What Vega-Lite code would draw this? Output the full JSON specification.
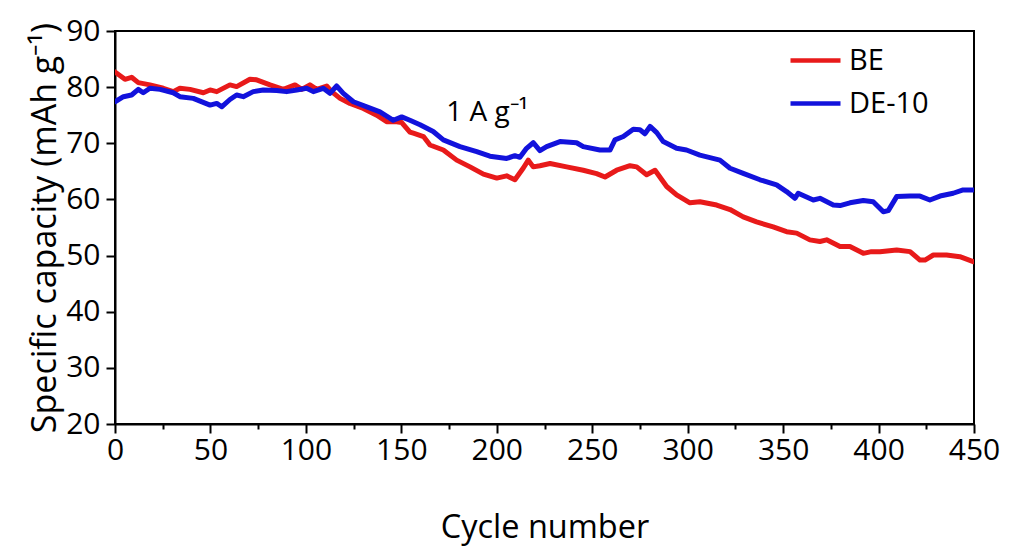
{
  "$schema": "https://vega.github.io/schema/vega-lite/v6.json",
  "width": 859,
  "height": 393,
  "autosize": "none",
  "padding": {"left": 115, "top": 31, "right": 37, "bottom": 125},
  "background": "white",
  "config": {
    "view": {"stroke": "black", "strokeWidth": 2},
    "font": "Open Sans",
    "axis": {
      "grid": false,
      "domainColor": "black",
      "domainWidth": 2,
      "tickColor": "black",
      "tickWidth": 2,
      "labelColor": "black",
      "titleColor": "black",
      "labelFont": "Open Sans",
      "titleFont": "Open Sans",
      "labelFontSize": 30,
      "titleFontSize": 32.5,
      "titleFontWeight": "normal"
    }
  },
  "data": {
    "values": [
      {"cycle": 0, "capacity": 82.7, "electrolyte": "BE"},
      {"cycle": 5.2, "capacity": 81.4, "electrolyte": "BE"},
      {"cycle": 8.7, "capacity": 81.75, "electrolyte": "BE"},
      {"cycle": 12.2, "capacity": 80.8, "electrolyte": "BE"},
      {"cycle": 18.3, "capacity": 80.4, "electrolyte": "BE"},
      {"cycle": 25.3, "capacity": 79.8, "electrolyte": "BE"},
      {"cycle": 30.5, "capacity": 79.2, "electrolyte": "BE"},
      {"cycle": 34, "capacity": 79.8, "electrolyte": "BE"},
      {"cycle": 39.3, "capacity": 79.6, "electrolyte": "BE"},
      {"cycle": 46.3, "capacity": 79.0, "electrolyte": "BE"},
      {"cycle": 49.8, "capacity": 79.5, "electrolyte": "BE"},
      {"cycle": 53.3, "capacity": 79.2, "electrolyte": "BE"},
      {"cycle": 60.2, "capacity": 80.4, "electrolyte": "BE"},
      {"cycle": 63.7, "capacity": 80.1, "electrolyte": "BE"},
      {"cycle": 70.7, "capacity": 81.4, "electrolyte": "BE"},
      {"cycle": 74.2, "capacity": 81.3, "electrolyte": "BE"},
      {"cycle": 81.2, "capacity": 80.4, "electrolyte": "BE"},
      {"cycle": 88.2, "capacity": 79.6, "electrolyte": "BE"},
      {"cycle": 94.3, "capacity": 80.4, "electrolyte": "BE"},
      {"cycle": 97.8, "capacity": 79.6, "electrolyte": "BE"},
      {"cycle": 102.1, "capacity": 80.4, "electrolyte": "BE"},
      {"cycle": 105.7, "capacity": 79.6, "electrolyte": "BE"},
      {"cycle": 110.9, "capacity": 80.2, "electrolyte": "BE"},
      {"cycle": 113.5, "capacity": 79.2, "electrolyte": "BE"},
      {"cycle": 117.9, "capacity": 78.0, "electrolyte": "BE"},
      {"cycle": 123.1, "capacity": 77.1, "electrolyte": "BE"},
      {"cycle": 130.1, "capacity": 76.2, "electrolyte": "BE"},
      {"cycle": 137.1, "capacity": 75.0, "electrolyte": "BE"},
      {"cycle": 142.3, "capacity": 73.85, "electrolyte": "BE"},
      {"cycle": 147.6, "capacity": 73.85, "electrolyte": "BE"},
      {"cycle": 150.2, "capacity": 73.7, "electrolyte": "BE"},
      {"cycle": 154.5, "capacity": 72.0, "electrolyte": "BE"},
      {"cycle": 156.3, "capacity": 71.8, "electrolyte": "BE"},
      {"cycle": 161.6, "capacity": 71.2, "electrolyte": "BE"},
      {"cycle": 165, "capacity": 69.7, "electrolyte": "BE"},
      {"cycle": 172, "capacity": 68.8, "electrolyte": "BE"},
      {"cycle": 179, "capacity": 67.0, "electrolyte": "BE"},
      {"cycle": 186, "capacity": 65.8, "electrolyte": "BE"},
      {"cycle": 193, "capacity": 64.5, "electrolyte": "BE"},
      {"cycle": 200, "capacity": 63.8, "electrolyte": "BE"},
      {"cycle": 205.2, "capacity": 64.2, "electrolyte": "BE"},
      {"cycle": 209.5, "capacity": 63.5, "electrolyte": "BE"},
      {"cycle": 213.9, "capacity": 65.6, "electrolyte": "BE"},
      {"cycle": 216.5, "capacity": 67.0, "electrolyte": "BE"},
      {"cycle": 219.1, "capacity": 65.8, "electrolyte": "BE"},
      {"cycle": 222.6, "capacity": 66.0, "electrolyte": "BE"},
      {"cycle": 227.9, "capacity": 66.4, "electrolyte": "BE"},
      {"cycle": 236.6, "capacity": 65.8, "electrolyte": "BE"},
      {"cycle": 245.3, "capacity": 65.2, "electrolyte": "BE"},
      {"cycle": 252.3, "capacity": 64.6, "electrolyte": "BE"},
      {"cycle": 256.7, "capacity": 64.0, "electrolyte": "BE"},
      {"cycle": 262.8, "capacity": 65.2, "electrolyte": "BE"},
      {"cycle": 269.8, "capacity": 66.0, "electrolyte": "BE"},
      {"cycle": 273.3, "capacity": 65.8, "electrolyte": "BE"},
      {"cycle": 278.5, "capacity": 64.4, "electrolyte": "BE"},
      {"cycle": 282.9, "capacity": 65.2, "electrolyte": "BE"},
      {"cycle": 289, "capacity": 62.3, "electrolyte": "BE"},
      {"cycle": 294.2, "capacity": 60.8, "electrolyte": "BE"},
      {"cycle": 301.2, "capacity": 59.4, "electrolyte": "BE"},
      {"cycle": 306.4, "capacity": 59.6, "electrolyte": "BE"},
      {"cycle": 315.2, "capacity": 59.0, "electrolyte": "BE"},
      {"cycle": 322.2, "capacity": 58.2, "electrolyte": "BE"},
      {"cycle": 329.1, "capacity": 56.9, "electrolyte": "BE"},
      {"cycle": 336.1, "capacity": 56.0, "electrolyte": "BE"},
      {"cycle": 344.8, "capacity": 55.1, "electrolyte": "BE"},
      {"cycle": 351.8, "capacity": 54.25, "electrolyte": "BE"},
      {"cycle": 357.1, "capacity": 54.0, "electrolyte": "BE"},
      {"cycle": 364, "capacity": 52.8, "electrolyte": "BE"},
      {"cycle": 369.3, "capacity": 52.5, "electrolyte": "BE"},
      {"cycle": 372.8, "capacity": 52.8, "electrolyte": "BE"},
      {"cycle": 379.8, "capacity": 51.6, "electrolyte": "BE"},
      {"cycle": 385, "capacity": 51.6, "electrolyte": "BE"},
      {"cycle": 392, "capacity": 50.4, "electrolyte": "BE"},
      {"cycle": 396.3, "capacity": 50.7, "electrolyte": "BE"},
      {"cycle": 400.7, "capacity": 50.7, "electrolyte": "BE"},
      {"cycle": 409.5, "capacity": 51.0, "electrolyte": "BE"},
      {"cycle": 416.5, "capacity": 50.7, "electrolyte": "BE"},
      {"cycle": 421.7, "capacity": 49.2, "electrolyte": "BE"},
      {"cycle": 424.3, "capacity": 49.2, "electrolyte": "BE"},
      {"cycle": 428.7, "capacity": 50.1, "electrolyte": "BE"},
      {"cycle": 435.6, "capacity": 50.1, "electrolyte": "BE"},
      {"cycle": 442.6, "capacity": 49.8, "electrolyte": "BE"},
      {"cycle": 449.6, "capacity": 48.9, "electrolyte": "BE"},
      {"cycle": 0, "capacity": 77.4, "electrolyte": "DE-10"},
      {"cycle": 4.4, "capacity": 78.3, "electrolyte": "DE-10"},
      {"cycle": 8.7, "capacity": 78.6, "electrolyte": "DE-10"},
      {"cycle": 12.2, "capacity": 79.6, "electrolyte": "DE-10"},
      {"cycle": 14.8, "capacity": 79.0, "electrolyte": "DE-10"},
      {"cycle": 18.3, "capacity": 79.8, "electrolyte": "DE-10"},
      {"cycle": 23.6, "capacity": 79.6, "electrolyte": "DE-10"},
      {"cycle": 30.5, "capacity": 79.0, "electrolyte": "DE-10"},
      {"cycle": 34, "capacity": 78.3, "electrolyte": "DE-10"},
      {"cycle": 41, "capacity": 78.0, "electrolyte": "DE-10"},
      {"cycle": 49.8, "capacity": 76.8, "electrolyte": "DE-10"},
      {"cycle": 53.3, "capacity": 77.1, "electrolyte": "DE-10"},
      {"cycle": 55.9, "capacity": 76.5, "electrolyte": "DE-10"},
      {"cycle": 60.2, "capacity": 77.8, "electrolyte": "DE-10"},
      {"cycle": 63.7, "capacity": 78.6, "electrolyte": "DE-10"},
      {"cycle": 67.2, "capacity": 78.3, "electrolyte": "DE-10"},
      {"cycle": 72.4, "capacity": 79.2, "electrolyte": "DE-10"},
      {"cycle": 77.7, "capacity": 79.5, "electrolyte": "DE-10"},
      {"cycle": 84.7, "capacity": 79.4, "electrolyte": "DE-10"},
      {"cycle": 89.9, "capacity": 79.2, "electrolyte": "DE-10"},
      {"cycle": 95.2, "capacity": 79.5, "electrolyte": "DE-10"},
      {"cycle": 100.4, "capacity": 79.8, "electrolyte": "DE-10"},
      {"cycle": 103.9, "capacity": 79.2, "electrolyte": "DE-10"},
      {"cycle": 109.1, "capacity": 79.8, "electrolyte": "DE-10"},
      {"cycle": 112.6, "capacity": 78.9, "electrolyte": "DE-10"},
      {"cycle": 116.1, "capacity": 80.2, "electrolyte": "DE-10"},
      {"cycle": 119.6, "capacity": 78.9, "electrolyte": "DE-10"},
      {"cycle": 124.9, "capacity": 77.4, "electrolyte": "DE-10"},
      {"cycle": 131.9, "capacity": 76.5, "electrolyte": "DE-10"},
      {"cycle": 138.8, "capacity": 75.6, "electrolyte": "DE-10"},
      {"cycle": 145.8, "capacity": 74.1, "electrolyte": "DE-10"},
      {"cycle": 150.2, "capacity": 74.7, "electrolyte": "DE-10"},
      {"cycle": 154.5, "capacity": 74.1, "electrolyte": "DE-10"},
      {"cycle": 159.8, "capacity": 73.3, "electrolyte": "DE-10"},
      {"cycle": 166.7, "capacity": 72.1, "electrolyte": "DE-10"},
      {"cycle": 172, "capacity": 70.6, "electrolyte": "DE-10"},
      {"cycle": 180.7, "capacity": 69.4, "electrolyte": "DE-10"},
      {"cycle": 189.5, "capacity": 68.5, "electrolyte": "DE-10"},
      {"cycle": 196.4, "capacity": 67.7, "electrolyte": "DE-10"},
      {"cycle": 205.2, "capacity": 67.3, "electrolyte": "DE-10"},
      {"cycle": 209.5, "capacity": 67.8, "electrolyte": "DE-10"},
      {"cycle": 212.1, "capacity": 67.5, "electrolyte": "DE-10"},
      {"cycle": 215.6, "capacity": 69.1, "electrolyte": "DE-10"},
      {"cycle": 219.1, "capacity": 70.1, "electrolyte": "DE-10"},
      {"cycle": 222.6, "capacity": 68.7, "electrolyte": "DE-10"},
      {"cycle": 226.1, "capacity": 69.4, "electrolyte": "DE-10"},
      {"cycle": 233.1, "capacity": 70.3, "electrolyte": "DE-10"},
      {"cycle": 241.8, "capacity": 70.1, "electrolyte": "DE-10"},
      {"cycle": 245.3, "capacity": 69.4, "electrolyte": "DE-10"},
      {"cycle": 254, "capacity": 68.8, "electrolyte": "DE-10"},
      {"cycle": 259.3, "capacity": 68.8, "electrolyte": "DE-10"},
      {"cycle": 261.9, "capacity": 70.6, "electrolyte": "DE-10"},
      {"cycle": 266.3, "capacity": 71.2, "electrolyte": "DE-10"},
      {"cycle": 271.5, "capacity": 72.5, "electrolyte": "DE-10"},
      {"cycle": 275, "capacity": 72.4, "electrolyte": "DE-10"},
      {"cycle": 277.6, "capacity": 71.7, "electrolyte": "DE-10"},
      {"cycle": 280.3, "capacity": 73.0, "electrolyte": "DE-10"},
      {"cycle": 283.8, "capacity": 71.9, "electrolyte": "DE-10"},
      {"cycle": 287.2, "capacity": 70.3, "electrolyte": "DE-10"},
      {"cycle": 294.2, "capacity": 69.1, "electrolyte": "DE-10"},
      {"cycle": 299.4, "capacity": 68.8, "electrolyte": "DE-10"},
      {"cycle": 306.4, "capacity": 67.9, "electrolyte": "DE-10"},
      {"cycle": 316.9, "capacity": 67.0, "electrolyte": "DE-10"},
      {"cycle": 322.2, "capacity": 65.55, "electrolyte": "DE-10"},
      {"cycle": 329.1, "capacity": 64.65, "electrolyte": "DE-10"},
      {"cycle": 337.9, "capacity": 63.5, "electrolyte": "DE-10"},
      {"cycle": 346.6, "capacity": 62.6, "electrolyte": "DE-10"},
      {"cycle": 351.8, "capacity": 61.4, "electrolyte": "DE-10"},
      {"cycle": 356.2, "capacity": 60.2, "electrolyte": "DE-10"},
      {"cycle": 357.9, "capacity": 61.1, "electrolyte": "DE-10"},
      {"cycle": 365.8, "capacity": 59.9, "electrolyte": "DE-10"},
      {"cycle": 369.3, "capacity": 60.2, "electrolyte": "DE-10"},
      {"cycle": 376.3, "capacity": 59.0, "electrolyte": "DE-10"},
      {"cycle": 379.8, "capacity": 58.9, "electrolyte": "DE-10"},
      {"cycle": 385, "capacity": 59.4, "electrolyte": "DE-10"},
      {"cycle": 392, "capacity": 59.8, "electrolyte": "DE-10"},
      {"cycle": 397.2, "capacity": 59.6, "electrolyte": "DE-10"},
      {"cycle": 402.5, "capacity": 57.8, "electrolyte": "DE-10"},
      {"cycle": 405.1, "capacity": 58.0, "electrolyte": "DE-10"},
      {"cycle": 409.5, "capacity": 60.5, "electrolyte": "DE-10"},
      {"cycle": 416.5, "capacity": 60.6, "electrolyte": "DE-10"},
      {"cycle": 421.7, "capacity": 60.6, "electrolyte": "DE-10"},
      {"cycle": 426.9, "capacity": 59.9, "electrolyte": "DE-10"},
      {"cycle": 432.2, "capacity": 60.6, "electrolyte": "DE-10"},
      {"cycle": 439.1, "capacity": 61.1, "electrolyte": "DE-10"},
      {"cycle": 444.3, "capacity": 61.7, "electrolyte": "DE-10"},
      {"cycle": 449.6, "capacity": 61.7, "electrolyte": "DE-10"}
    ]
  },
  "layer": [
    {
      "mark": {"type": "line", "strokeWidth": 5, "strokeJoin": "round", "strokeCap": "round", "clip": true},
      "encoding": {
        "x": {
          "field": "cycle",
          "type": "quantitative",
          "scale": {"domain": [0, 450], "nice": false, "zero": false},
          "axis": {
            "title": "Cycle number",
            "titlePadding": 46,
            "values": [0, 25, 50, 75, 100, 125, 150, 175, 200, 225, 250, 275, 300, 325, 350, 375, 400, 425, 450],
            "labelExpr": "datum.value % 50 === 0 ? datum.label : ''",
            "tickSize": {"condition": {"test": "datum.value % 50 === 0", "value": 9}, "value": 5},
            "labelPadding": 2,
            "labelFlush": false
          }
        },
        "y": {
          "field": "capacity",
          "type": "quantitative",
          "scale": {"domain": [20, 90], "nice": false, "zero": false},
          "axis": {
            "title": "Specific capacity (mAh g⁻¹)",
            "titleFontSize": 34,
            "titlePadding": 3,
            "values": [20, 25, 30, 35, 40, 45, 50, 55, 60, 65, 70, 75, 80, 85, 90],
            "labelExpr": "datum.value % 10 === 0 ? datum.label : ''",
            "tickSize": {"condition": {"test": "datum.value % 10 === 0", "value": 9}, "value": 6},
            "labelPadding": 6,
            "labelFlush": false
          }
        },
        "color": {
          "field": "electrolyte",
          "type": "nominal",
          "scale": {"domain": ["BE", "DE-10"], "range": ["#e81a1a", "#1212dc"]},
          "legend": {
            "title": null,
            "orient": "none",
            "legendX": 673,
            "legendY": 2,
            "symbolType": "stroke",
            "symbolSize": 2500,
            "symbolStrokeWidth": 4.5,
            "labelFontSize": 29,
            "labelFont": "Open Sans",
            "labelColor": "black",
            "labelOffset": 6,
            "rowPadding": -3
          }
        }
      }
    },
    {
      "data": {"values": [{"cycle": 195, "capacity": 75.4, "note": "1 A g⁻¹"}]},
      "mark": {"type": "text", "fontSize": 28, "font": "Open Sans", "color": "black", "align": "center", "baseline": "middle"},
      "encoding": {
        "x": {"field": "cycle", "type": "quantitative"},
        "y": {"field": "capacity", "type": "quantitative"},
        "text": {"field": "note"}
      }
    }
  ]
}
